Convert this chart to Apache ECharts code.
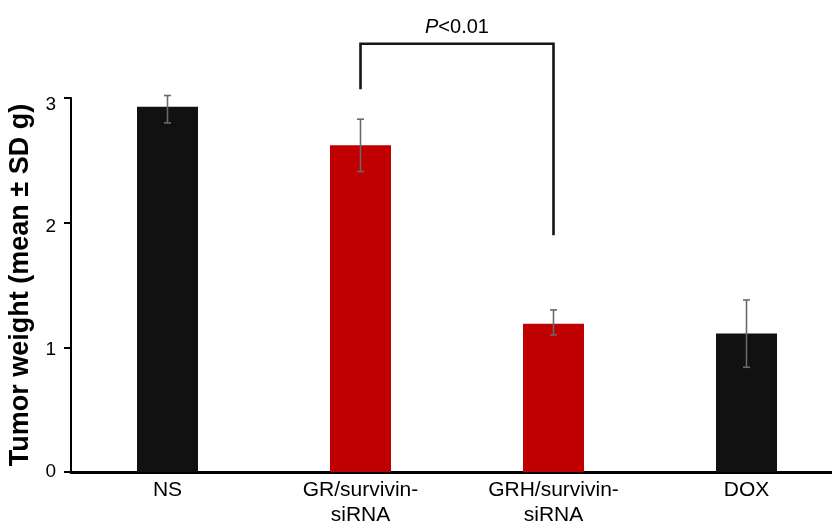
<!DOCTYPE html>
<html><head><meta charset="utf-8">
<script src="https://cdn.jsdelivr.net/npm/echarts@6/dist/echarts.min.js"></script>
<style>html,body{margin:0;padding:0;background:#fff;overflow:hidden}#c{width:832px;height:523px}</style>
</head><body><div id="c"></div>
<script>
const categories = ["NS", "GR/survivin-\nsiRNA", "GRH/survivin-\nsiRNA", "DOX"];
const means = [2.93, 2.62, 1.19, 1.11];
const errLow = [2.80, 2.41, 1.10, 0.84];
const errHigh = [3.02, 2.83, 1.30, 1.38];
const barColors = ["#111111", "#c00000", "#c00000", "#111111"];
const yTicks = [0, 1, 2, 3];
// significance bracket: [leftCat, rightCat, topY, leftEndY, rightEndY]
const bracket = [1, 2, 3.435, 3.07, 1.90];
const pLabel = "P<0.01";

const chart = echarts.init(document.getElementById('c'), null, {renderer: 'canvas'});
const font = '"Liberation Sans", Arial, sans-serif';
// tick labels in the reference sit slightly below their ticks, more so toward the top
const labelShift = {0: 0, 1: 2, 2: 4, 3: 7};
chart.setOption({
  animation: false,
  grid: {left: 71, top: 98, width: 772, height: 374, containLabel: false, outerBoundsMode: 'none'},
  xAxis: {
    type: 'category', data: categories,
    axisLine: {lineStyle: {color: '#000', width: 3}},
    axisTick: {show: false},
    axisLabel: {color: '#000', fontSize: 21, fontFamily: font, lineHeight: 25, margin: 6}
  },
  yAxis: {
    type: 'value', min: yTicks[0], max: yTicks[yTicks.length - 1], interval: 1,
    name: 'Tumor weight (mean ± SD g)', nameLocation: 'middle', nameGap: 36,
    nameTextStyle: {color: '#000', fontSize: 27, fontWeight: 'bold', fontFamily: font},
    axisLine: {show: true, lineStyle: {color: '#000', width: 2}},
    axisTick: {show: true, length: 7, lineStyle: {color: '#000', width: 2}},
    axisLabel: {
      color: '#000', fontSize: 19, fontFamily: font, margin: 15,
      formatter: function (v) { return '{s' + v + '|' + v + '}'; },
      rich: {
        s0: {fontSize: 19, fontFamily: font, padding: [2 * labelShift[0], 0, 0, 0]},
        s1: {fontSize: 19, fontFamily: font, padding: [2 * labelShift[1], 0, 0, 0]},
        s2: {fontSize: 19, fontFamily: font, padding: [2 * labelShift[2], 0, 0, 0]},
        s3: {fontSize: 19, fontFamily: font, padding: [2 * labelShift[3], 0, 0, 0]}
      }
    },
    splitLine: {show: false}
  },
  series: [
    {
      type: 'bar', barWidth: 61,
      data: means.map((v, i) => ({value: v, itemStyle: {color: barColors[i]}}))
    },
    {
      type: 'custom', z: 10,
      data: means.map((v, i) => [i, errLow[i], errHigh[i]]),
      renderItem: function (params, api) {
        const lo = api.coord([api.value(0), api.value(1)]);
        const hi = api.coord([api.value(0), api.value(2)]);
        const w = 3.5;
        const st = {stroke: '#6a6a6a', lineWidth: 1.6};
        return {type: 'group', children: [
          {type: 'line', shape: {x1: hi[0], y1: hi[1], x2: lo[0], y2: lo[1]}, style: st},
          {type: 'line', shape: {x1: hi[0] - w, y1: hi[1], x2: hi[0] + w, y2: hi[1]}, style: st},
          {type: 'line', shape: {x1: lo[0] - w, y1: lo[1], x2: lo[0] + w, y2: lo[1]}, style: st}
        ]};
      }
    },
    {
      type: 'custom', z: 10, clip: false,
      data: [bracket],
      renderItem: function (params, api) {
        const l = api.coord([api.value(0), api.value(2)]);
        const r = api.coord([api.value(1), api.value(2)]);
        const le = api.coord([api.value(0), api.value(3)]);
        const re = api.coord([api.value(1), api.value(4)]);
        const st = {stroke: '#151515', lineWidth: 2.6, fill: null};
        return {type: 'group', children: [
          {type: 'polyline', shape: {points: [[le[0], le[1]], [l[0], l[1]], [r[0], r[1]], [re[0], re[1]]]}, style: st},
          {type: 'text', style: {
            x: (l[0] + r[0]) / 2, y: l[1] - 16, align: 'center', verticalAlign: 'middle',
            text: '{i|P}{n|' + pLabel.slice(1) + '}',
            rich: {
              i: {fontStyle: 'italic', fontSize: 20, fontFamily: font, fill: '#000'},
              n: {fontSize: 20, fontFamily: font, fill: '#000'}
            }
          }}
        ]};
      }
    }
  ]
});
</script></body></html>
